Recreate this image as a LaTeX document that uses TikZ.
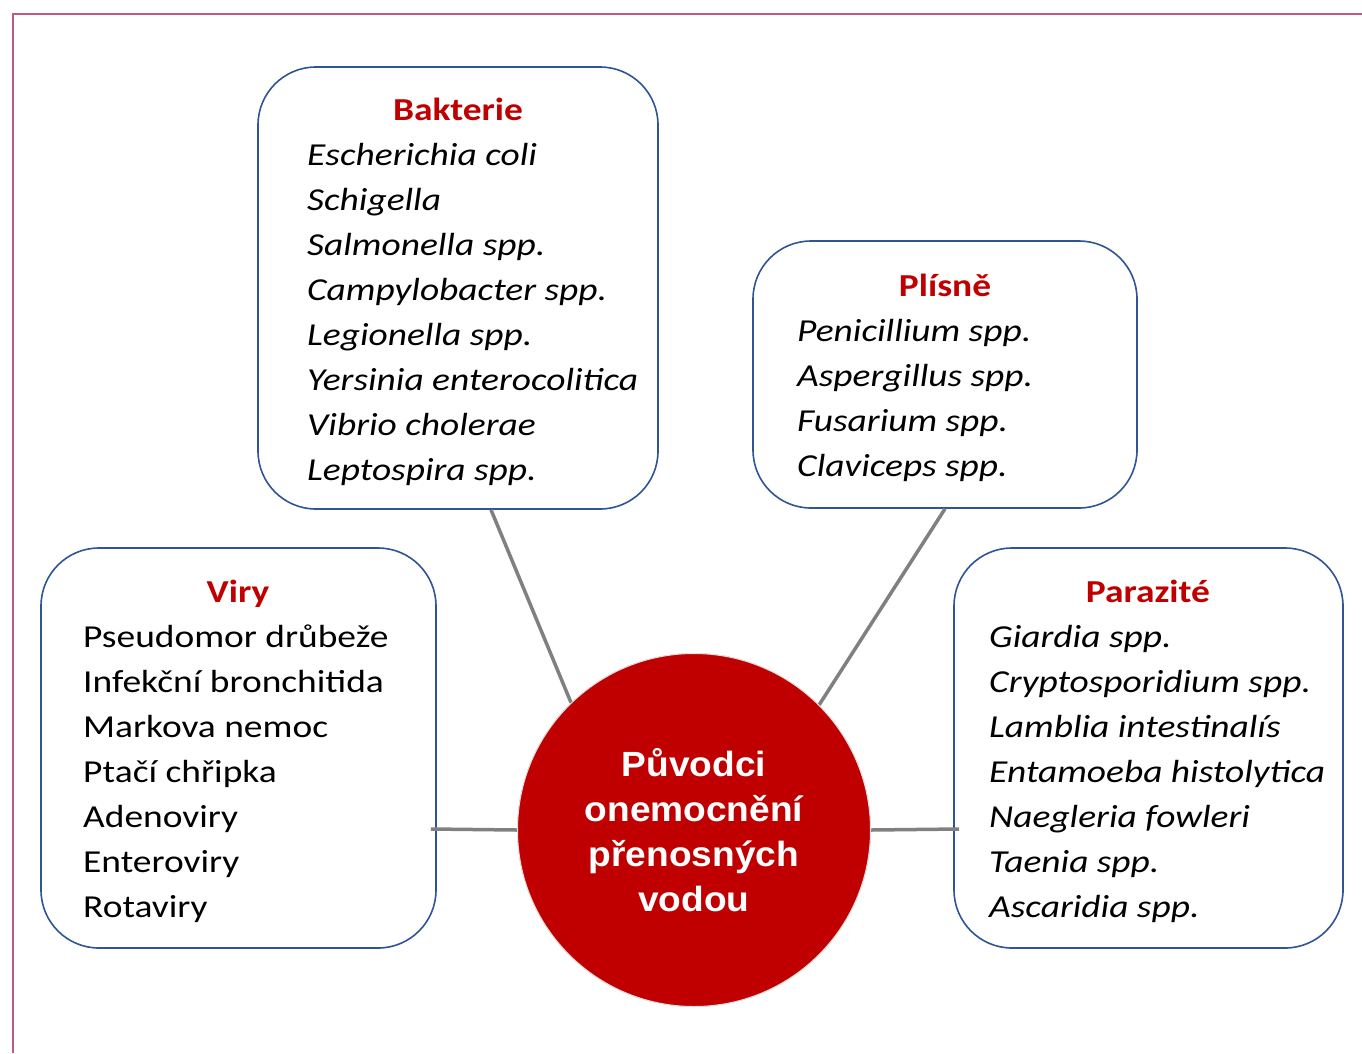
\documentclass[tikz,border=0pt]{standalone}
\usepackage{fontspec}
\setmainfont{Carlito}[FakeStretch=1.17]
\newfontfamily\arialf{Liberation Sans}[FakeStretch=1.06]
\usetikzlibrary{calc}
\definecolor{boxblue}{HTML}{2F5597}
\definecolor{darkred}{HTML}{C00000}
\definecolor{conn}{HTML}{808080}
\definecolor{pinkb}{HTML}{BE5A7E}
\begin{document}
\begin{tikzpicture}[x=1pt,y=-1pt,
  catbox/.style={draw=boxblue, line width=1.6pt, rounded corners=58pt, inner sep=0pt, fill=white},
  cattitle/.style={anchor=base, inner sep=0pt, text=darkred, font=\fontsize{32}{45}\selectfont\bfseries},
  itemup/.style={anchor=base west, inner sep=0pt, font=\fontsize{32}{45}\selectfont},
  itemit/.style={anchor=base west, inner sep=0pt, font=\fontsize{32}{45}\selectfont\itshape},
  link/.style={draw=conn, line width=3.5pt},
  hub/.style={circle, fill=darkred, draw=black!12, line width=1pt, minimum size=353pt, inner sep=0pt,
    text=white, align=center, font=\arialf\bfseries\fontsize{35}{45}\selectfont}]
\useasboundingbox (0,0) rectangle (1362,1053);
\draw[pinkb, line width=2pt] (13,1053) -- (13,14) -- (1362,14);

% boxes
\node[catbox, minimum width=400pt, minimum height=442pt] (bak) at (458,288) {};
\node[catbox, minimum width=384pt, minimum height=267pt] (pli) at (945,374.5) {};
\node[catbox, minimum width=395pt, minimum height=400pt] (viry) at (238.5,748) {};
\node[catbox, minimum width=389pt, minimum height=400pt] (par) at (1148.5,748) {};

% hub
\node[hub] (hubc) at (694,830) {Původci\\onemocnění\\přenosných\\vodou};

% connectors
\draw[link] ($(bak.south)+(33,0)$) -- (hubc.134);
\draw[link] (pli.south) -- (hubc.45);
\draw[link] ($(viry.east |- hubc.west)+(-6,-1)$) -- (hubc.west);
\draw[link] (hubc.east) -- ($(par.west |- hubc.east)+(6,-1)$);
\node[hub] at (hubc) {Původci\\onemocnění\\přenosných\\vodou};

% Bakterie
\node[cattitle] (tbak) at (458,120) {Bakterie};
\foreach \t [count=\i from 0] in {Escherichia coli, Schigella, Salmonella spp., Campylobacter spp., Legionella spp., Yersinia enterocolitica, Vibrio cholerae, Leptospira spp.}
  \node[itemit] (bak\i) at (307,165+45*\i) {\t};

% Plisne
\node[cattitle] (tpli) at (945,296) {Plísně};
\foreach \t [count=\i from 0] in {Penicillium spp., Aspergillus spp., Fusarium spp., Claviceps spp.}
  \node[itemit] (pli\i) at (797,341+45*\i) {\t};

% Viry
\node[cattitle] (tviry) at (238,602) {Viry};
\foreach \t [count=\i from 0] in {Pseudomor drůbeže, Infekční bronchitida, Markova nemoc, Ptačí chřipka, Adenoviry, Enteroviry, Rotaviry}
  \node[itemup] (viry\i) at (83,647+45*\i) {\t};

% Parazite
\node[cattitle] (tpar) at (1148,602) {Parazité};
\foreach \t [count=\i from 0] in {Giardia spp., Cryptosporidium spp., Lamblia intestinalís, Entamoeba histolytica, Naegleria fowleri, Taenia spp., Ascaridia spp.}
  \node[itemit] (par\i) at (989,647+45*\i) {\t};
\end{tikzpicture}
\end{document}
